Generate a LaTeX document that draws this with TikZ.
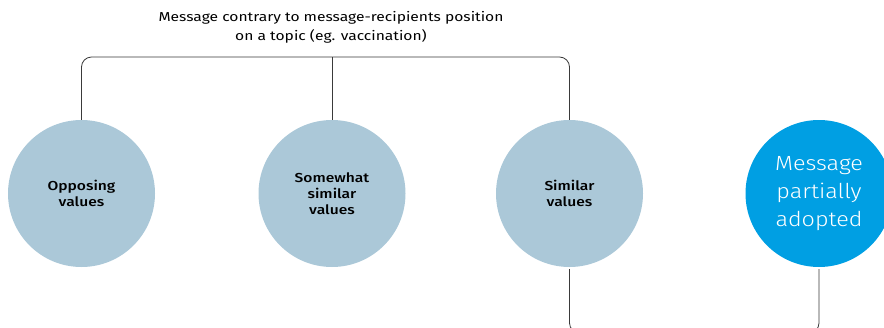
\documentclass[tikz,border=0pt]{standalone}
\usepackage{fontspec}
\setmainfont{Fira Sans}[FakeStretch=1.2]
\newfontfamily\medfont{Fira Sans Medium}[FakeStretch=1.2]
\newfontfamily\lightfont{Fira Sans Light}[FakeStretch=1.14]
\usepackage{tikz}
\usetikzlibrary{positioning}
\definecolor{valblue}{HTML}{ABC8D8}
\definecolor{msgblue}{HTML}{009FE3}
\definecolor{linegray}{HTML}{3A3A3A}
\tikzset{
  val/.style={circle, fill=valblue, minimum size=147pt, inner sep=0pt, align=center,
    font=\medfont\fontsize{13}{16}\selectfont},
  msg/.style={circle, fill=msgblue, minimum size=147pt, inner sep=0pt, align=center,
    text=white, font=\lightfont\fontsize{20.5}{28}\selectfont},
  link/.style={draw=linegray, line width=0.8pt, rounded corners=10pt}
}

\begin{document}
\begin{tikzpicture}[x=1pt, y=-1pt]
            \useasboundingbox (0,0) rectangle (884,327);
            \clip (0,0) rectangle (884,327);
            \draw (331,27) node[align=center, font=\fontsize{13}{19}\selectfont] (title)
                {Message contrary to message-recipients position\\on a topic (eg. vaccination)};
            \draw (81.5,193.5) node[val]                   (opp) {Opposing\\values};
            \draw (332,193.5) node[val]                    (some) {Somewhat\\similar\\values};
            \draw (569.5,193.5) node[val]                  (sim) {Similar\\values};
            \draw (819,193.5) node[msg]                    (part) {Message\\partially\\adopted};
            \coordinate (top) at (332,57);
            \coordinate (bot) at (694,333);
            \draw[link] (opp.north) |- (top) -| (sim.north);
            \draw[link] (top) -- (some.north);
            \draw[link] ([yshift=-2pt]sim.south) |- (bot) -| ([yshift=-2pt]part.south);

            \end{tikzpicture}
\end{document}
